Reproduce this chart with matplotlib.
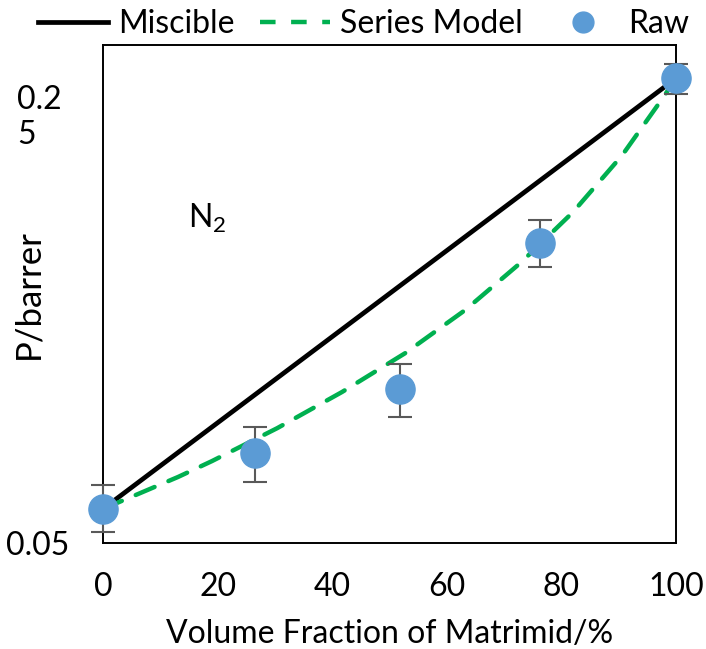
import numpy as np
import matplotlib
matplotlib.use("Agg")
import matplotlib.pyplot as plt
from matplotlib.lines import Line2D

plt.rcParams['font.family'] = ['Lato', 'DejaVu Sans']
plt.rcParams['mathtext.fontset'] = 'custom'
plt.rcParams['mathtext.rm'] = 'Lato'

# Raw measurements (volume fraction of Matrimid, permeability)
raw_x = [0, 26.5, 51.8, 76.3, 100]
raw_p = [0.0568, 0.0700, 0.0889, 0.1533, 0.2839]
raw_hi = [0.0621, 0.0771, 0.0976, 0.1670, 0.2991]
raw_lo = [0.0521, 0.0628, 0.0800, 0.1401, 0.2674]

# Miscible (log-mixing) line end points
misc_x = [0, 100]
misc_p = [0.0568, 0.2839]

# Series model curve
series_x = [0, 7.3, 13.1, 19.0, 30.4, 41.7, 52.7, 63.2, 73.0, 82.0, 90.6, 97.9, 100]
series_p = [0.0568, 0.0607, 0.0640, 0.0679, 0.0768, 0.0879, 0.1016,
            0.1194, 0.1428, 0.1721, 0.2129, 0.2654, 0.2839]

ytick_vals = [0.05, 0.25]
ytick_text = ["0.05", "0.2 \n5"]
xtick_vals = [0, 20, 40, 60, 80, 100]

BLUE = "#5B9BD5"
GREEN = "#00B050"
GREY = "#595959"
FS = 23

fig = plt.figure(figsize=(7.06, 6.49), dpi=100)
ax = fig.add_axes([0.1459, 0.1633, 0.8116, 0.7673])

ax.plot(misc_x, misc_p, color="black", lw=3.4, solid_capstyle="round", zorder=2)
ax.plot(series_x, series_p, color=GREEN, lw=3.2, dashes=(4.6, 3.4),
        dash_capstyle="round", zorder=3)

yerr = [np.array(raw_p) - np.array(raw_lo), np.array(raw_hi) - np.array(raw_p)]
ax.errorbar(raw_x, raw_p, yerr=yerr, fmt="none", ecolor=GREY, elinewidth=1.5,
            capsize=8.5, capthick=1.5, zorder=4, clip_on=False)
ax.plot(raw_x, raw_p, "o", color=BLUE, ms=21, mec=BLUE, zorder=5, clip_on=False)

ax.set_yscale("log")
ax.set_ylim(0.05, 0.3215)
ax.set_xlim(0, 100)
ax.set_yticks(ytick_vals)
ax.set_yticklabels(ytick_text)
ax.minorticks_off()
ax.set_xticks(xtick_vals)
ax.tick_params(axis="both", length=0, labelsize=FS)
ax.tick_params(axis="x", pad=21)
ax.tick_params(axis="y", pad=24)
for lab in ax.get_yticklabels():
    lab.set_multialignment("left")

for sp in ax.spines.values():
    sp.set_linewidth(1.4)
    sp.set_color("black")

ax.set_xlabel("Volume Fraction of Matrimid/%", fontsize=FS, labelpad=12)
ax.set_ylabel("P/barrer", fontsize=25)
ax.yaxis.set_label_coords(-0.103, 0.5)

ax.text(0.148, 0.653, "N$_2$", transform=ax.transAxes, fontsize=FS,
        ha="left", va="center")

handles = [
    Line2D([], [], color="black", lw=3.4),
    Line2D([], [], color=GREEN, lw=3.2, dashes=(3.5, 3.5)),
    Line2D([], [], color=BLUE, marker="o", ls="none", ms=15),
]
fig.legend(handles, ["Miscible", "Series Model", "Raw"], loc="upper center",
           bbox_to_anchor=(0.515, 1.03), ncol=3, frameon=False, fontsize=FS,
           handlelength=2.2, handletextpad=0.3, columnspacing=0.8)

fig.savefig("out.png", dpi=100)
